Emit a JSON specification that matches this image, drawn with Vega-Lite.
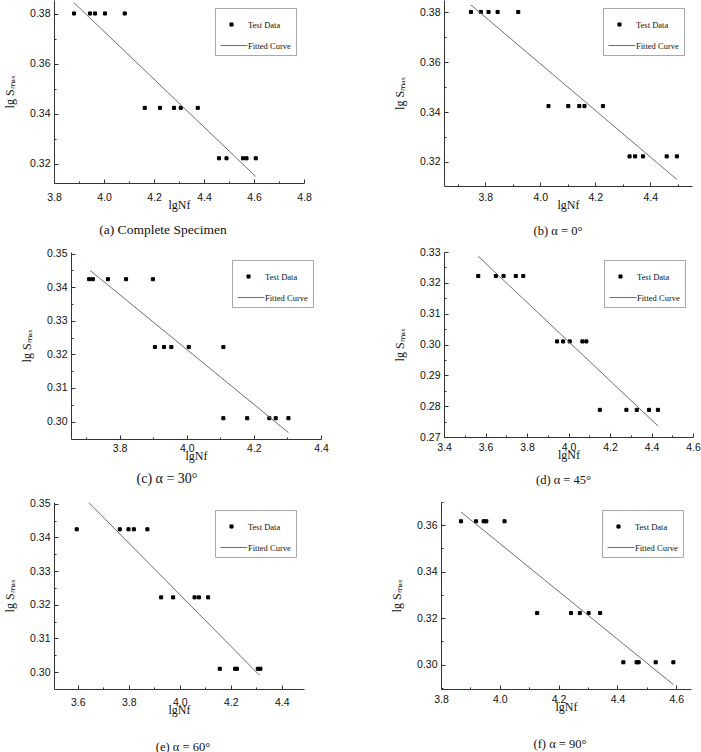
{
  "$schema": "https://vega.github.io/schema/vega-lite/v6.json",
  "padding": {"left": 2, "top": 0, "right": 0, "bottom": 0},
  "background": "white",
  "config": {
    "view": {"stroke": null},
    "axis": {"grid": false, "domainColor": "#333333", "tickColor": "#333333", "labelFont": "Liberation Sans", "labelFontSize": 10.5, "labelColor": "#111111", "titleFont": "Liberation Serif", "titleFontSize": 12, "titleFontWeight": "normal", "titleColor": "#111111", "labelFlush": false, "labelOverlap": false, "domainWidth": 1, "tickWidth": 1, "tickSize": -4},
    "axisX": {"titlePadding": -3.5, "labelPadding": 12},
    "axisY": {"titlePadding": 13, "labelPadding": 8},
    "legend": {"orient": "top-right", "offset": 8, "padding": 5, "rowPadding": 5, "symbolSize": 484, "symbolStrokeWidth": 1, "labelFont": "Liberation Serif", "labelFontSize": 8.5, "labelColor": "#111111", "labelOffset": 5, "strokeColor": "#a8a8a8", "fillColor": "#ffffff", "title": null},
    "title": {"font": "Liberation Serif", "fontWeight": "normal", "fontSize": 12.5, "color": "#111111", "orient": "bottom", "anchor": "middle", "frame": "group", "offset": 10}
  },
  "resolve": {"scale": {"x": "independent", "y": "independent", "color": "independent", "shape": "independent", "stroke": "independent"}, "legend": {"color": "independent", "shape": "independent", "stroke": "independent"}},
  "columns": 1,
  "spacing": 10,
  "concat": [
    {
      "spacing": 81,
      "resolve": {"scale": {"x": "independent", "y": "independent", "color": "independent", "shape": "independent", "stroke": "independent"}, "legend": {"color": "independent", "shape": "independent", "stroke": "independent"}},
      "hconcat": [
        {
          "spacing": 0,
          "resolve": {"scale": {"x": "independent", "y": "independent", "color": "independent", "shape": "independent", "stroke": "independent"}, "legend": {"color": "independent", "shape": "independent", "stroke": "independent"}},
          "hconcat": [
            {"width": 1, "height": 1, "data": {"values": [{"v": 0}]}, "mark": {"type": "point", "opacity": 0, "size": 0}},
            {
              "width": 250, "height": 183,
              "title": {"text": "(a) Complete Specimen", "dx": -16, "fontSize": 13.5, "offset": 12.5},
              "resolve": {"axis": {"x": "independent", "y": "independent"}},
              "layer": [
                {
                  "data": {"values": [
                    {"x": 3.880, "y": 0.3802, "s": "Test Data"}, {"x": 3.944, "y": 0.3802, "s": "Test Data"}, {"x": 3.964, "y": 0.3802, "s": "Test Data"}, {"x": 4.004, "y": 0.3802, "s": "Test Data"}, {"x": 4.083, "y": 0.3802, "s": "Test Data"},
                    {"x": 4.163, "y": 0.3424, "s": "Test Data"}, {"x": 4.224, "y": 0.3424, "s": "Test Data"}, {"x": 4.280, "y": 0.3424, "s": "Test Data"}, {"x": 4.307, "y": 0.3424, "s": "Test Data"}, {"x": 4.375, "y": 0.3424, "s": "Test Data"},
                    {"x": 4.460, "y": 0.3222, "s": "Test Data"}, {"x": 4.490, "y": 0.3222, "s": "Test Data"}, {"x": 4.556, "y": 0.3222, "s": "Test Data"}, {"x": 4.570, "y": 0.3222, "s": "Test Data"}, {"x": 4.607, "y": 0.3222, "s": "Test Data"}
                  ]},
                  "mark": {"type": "point", "filled": true, "opacity": 1, "size": 484, "strokeWidth": 1},
                  "encoding": {
                    "x": {"field": "x", "type": "quantitative", "scale": {"domain": [3.8, 4.8], "nice": false, "zero": false}, "axis": {"title": "lgNf", "format": ".1f", "labelPadding": 13, "values": [3.8, 4.0, 4.2, 4.4, 4.6, 4.8]}},
                    "y": {"field": "y", "type": "quantitative", "scale": {"domain": [0.3123, 0.3856], "nice": false, "zero": false}, "axis": {"title": "lg Sₘₐₓ", "format": ".2f", "values": [0.32, 0.34, 0.36, 0.38]}},
                    "shape": {"field": "s", "type": "nominal", "scale": {"domain": ["Test Data", "Fitted Curve"], "range": ["M-0.14,-0.14H0.14V0.14H-0.14Z", "M-1.0,0H1.45"]}},
                    "color": {"field": "s", "type": "nominal", "scale": {"domain": ["Test Data", "Fitted Curve"], "range": ["#000000", "#000000"]}},
                    "stroke": {"field": "s", "type": "nominal", "scale": {"domain": ["Test Data", "Fitted Curve"], "range": ["#000000", "#6e6e6e"]}}
                  }
                },
                {
                  "data": {"values": [{"x": 3.880, "y": 0.3845}, {"x": 4.607, "y": 0.3149}]},
                  "mark": {"type": "line", "color": "#6e6e6e", "strokeWidth": 1},
                  "encoding": {
                    "x": {"field": "x", "type": "quantitative", "axis": {"orient": "bottom", "values": [3.9, 4.1, 4.3, 4.5, 4.7], "labels": false, "domain": false, "title": null, "tickSize": -2}},
                    "y": {"field": "y", "type": "quantitative", "axis": {"orient": "left", "values": [0.33, 0.35, 0.37], "labels": false, "domain": false, "title": null, "tickSize": -2}}
                  }
                }
              ]
            }
          ]
        },
        {
          "width": 248, "height": 186,
          "title": {"text": "(b) α = 0°", "dx": -10, "offset": 14.5},
          "resolve": {"axis": {"x": "independent", "y": "independent"}},
          "layer": [
            {
              "data": {"values": [
                {"x": 3.748, "y": 0.3802, "s": "Test Data"}, {"x": 3.784, "y": 0.3802, "s": "Test Data"}, {"x": 3.812, "y": 0.3802, "s": "Test Data"}, {"x": 3.845, "y": 0.3802, "s": "Test Data"}, {"x": 3.920, "y": 0.3802, "s": "Test Data"},
                {"x": 4.030, "y": 0.3424, "s": "Test Data"}, {"x": 4.102, "y": 0.3424, "s": "Test Data"}, {"x": 4.142, "y": 0.3424, "s": "Test Data"}, {"x": 4.161, "y": 0.3424, "s": "Test Data"}, {"x": 4.228, "y": 0.3424, "s": "Test Data"},
                {"x": 4.325, "y": 0.3222, "s": "Test Data"}, {"x": 4.345, "y": 0.3222, "s": "Test Data"}, {"x": 4.374, "y": 0.3222, "s": "Test Data"}, {"x": 4.460, "y": 0.3222, "s": "Test Data"}, {"x": 4.497, "y": 0.3222, "s": "Test Data"}
              ]},
              "mark": {"type": "point", "filled": true, "opacity": 1, "size": 484, "strokeWidth": 1},
              "encoding": {
                "x": {"field": "x", "type": "quantitative", "scale": {"domain": [3.65, 4.552], "nice": false, "zero": false}, "axis": {"title": "lgNf", "format": ".1f", "labelPadding": 10, "values": [3.8, 4.0, 4.2, 4.4]}},
                "y": {"field": "y", "type": "quantitative", "scale": {"domain": [0.3103, 0.385], "nice": false, "zero": false}, "axis": {"title": "lg Sₘₐₓ", "format": ".2f", "values": [0.32, 0.34, 0.36, 0.38]}},
                "shape": {"field": "s", "type": "nominal", "scale": {"domain": ["Test Data", "Fitted Curve"], "range": ["M-0.14,-0.14H0.14V0.14H-0.14Z", "M-1.0,0H1.45"]}},
                "color": {"field": "s", "type": "nominal", "scale": {"domain": ["Test Data", "Fitted Curve"], "range": ["#000000", "#000000"]}},
                "stroke": {"field": "s", "type": "nominal", "scale": {"domain": ["Test Data", "Fitted Curve"], "range": ["#000000", "#6e6e6e"]}}
              }
            },
            {
              "data": {"values": [{"x": 3.748, "y": 0.383}, {"x": 4.497, "y": 0.3129}]},
              "mark": {"type": "line", "color": "#6e6e6e", "strokeWidth": 1},
              "encoding": {
                "x": {"field": "x", "type": "quantitative", "axis": {"orient": "bottom", "values": [3.7, 3.9, 4.1, 4.3, 4.5], "labels": false, "domain": false, "title": null, "tickSize": -2}},
                "y": {"field": "y", "type": "quantitative", "axis": {"orient": "left", "values": [0.33, 0.35, 0.37], "labels": false, "domain": false, "title": null, "tickSize": -2}}
              }
            }
          ]
        }
      ]
    },
    {
      "spacing": 64,
      "resolve": {"scale": {"x": "independent", "y": "independent", "color": "independent", "shape": "independent", "stroke": "independent"}, "legend": {"color": "independent", "shape": "independent", "stroke": "independent"}},
      "hconcat": [
        {
          "spacing": 17,
          "resolve": {"scale": {"x": "independent", "y": "independent", "color": "independent", "shape": "independent", "stroke": "independent"}, "legend": {"color": "independent", "shape": "independent", "stroke": "independent"}},
          "hconcat": [
            {"width": 1, "height": 1, "data": {"values": [{"v": 0}]}, "mark": {"type": "point", "opacity": 0, "size": 0}},
            {
              "width": 250, "height": 187,
              "title": {"text": "(c) α = 30°", "dx": -29, "fontSize": 14, "offset": 10.5, "subtitle": " ", "subtitleFontSize": 2, "subtitlePadding": 0},
              "resolve": {"axis": {"x": "independent", "y": "independent"}},
              "layer": [
                {
                  "data": {"values": [
                    {"x": 3.709, "y": 0.3424, "s": "Test Data"}, {"x": 3.720, "y": 0.3424, "s": "Test Data"}, {"x": 3.765, "y": 0.3424, "s": "Test Data"}, {"x": 3.819, "y": 0.3424, "s": "Test Data"}, {"x": 3.899, "y": 0.3424, "s": "Test Data"},
                    {"x": 3.905, "y": 0.3222, "s": "Test Data"}, {"x": 3.932, "y": 0.3222, "s": "Test Data"}, {"x": 3.954, "y": 0.3222, "s": "Test Data"}, {"x": 4.006, "y": 0.3222, "s": "Test Data"}, {"x": 4.109, "y": 0.3222, "s": "Test Data"},
                    {"x": 4.109, "y": 0.3010, "s": "Test Data"}, {"x": 4.180, "y": 0.3010, "s": "Test Data"}, {"x": 4.246, "y": 0.3010, "s": "Test Data"}, {"x": 4.265, "y": 0.3010, "s": "Test Data"}, {"x": 4.303, "y": 0.3010, "s": "Test Data"}
                  ]},
                  "mark": {"type": "point", "filled": true, "opacity": 1, "size": 484, "strokeWidth": 1},
                  "encoding": {
                    "x": {"field": "x", "type": "quantitative", "scale": {"domain": [3.655, 4.4], "nice": false, "zero": false}, "axis": {"title": "lgNf", "format": ".1f", "labelPadding": 8, "values": [3.8, 4.0, 4.2, 4.4]}},
                    "y": {"field": "y", "type": "quantitative", "scale": {"domain": [0.2948, 0.3505], "nice": false, "zero": false}, "axis": {"title": "lg Sₘₐₓ", "format": ".2f", "values": [0.30, 0.31, 0.32, 0.33, 0.34, 0.35]}},
                    "shape": {"field": "s", "type": "nominal", "scale": {"domain": ["Test Data", "Fitted Curve"], "range": ["M-0.14,-0.14H0.14V0.14H-0.14Z", "M-1.0,0H1.45"]}},
                    "color": {"field": "s", "type": "nominal", "scale": {"domain": ["Test Data", "Fitted Curve"], "range": ["#000000", "#000000"]}},
                    "stroke": {"field": "s", "type": "nominal", "scale": {"domain": ["Test Data", "Fitted Curve"], "range": ["#000000", "#6e6e6e"]}}
                  }
                },
                {
                  "data": {"values": [{"x": 3.712, "y": 0.345}, {"x": 4.303, "y": 0.2967}]},
                  "mark": {"type": "line", "color": "#6e6e6e", "strokeWidth": 1},
                  "encoding": {
                    "x": {"field": "x", "type": "quantitative", "axis": {"orient": "bottom", "values": [3.7, 3.9, 4.1, 4.3], "labels": false, "domain": false, "title": null, "tickSize": -2}},
                    "y": {"field": "y", "type": "quantitative", "axis": {"orient": "left", "values": [0.305, 0.315, 0.325, 0.335, 0.345], "labels": false, "domain": false, "title": null, "tickSize": -2}}
                  }
                }
              ]
            }
          ]
        },
        {
          "width": 249, "height": 185,
          "title": {"text": "(d) α = 45°", "dx": -5, "offset": 13.5, "subtitle": " ", "subtitleFontSize": 2, "subtitlePadding": 0},
          "resolve": {"axis": {"x": "independent", "y": "independent"}},
          "layer": [
            {
              "data": {"values": [
                {"x": 3.565, "y": 0.3222, "s": "Test Data"}, {"x": 3.650, "y": 0.3222, "s": "Test Data"}, {"x": 3.687, "y": 0.3222, "s": "Test Data"}, {"x": 3.746, "y": 0.3222, "s": "Test Data"}, {"x": 3.782, "y": 0.3222, "s": "Test Data"},
                {"x": 3.945, "y": 0.3010, "s": "Test Data"}, {"x": 3.974, "y": 0.3010, "s": "Test Data"}, {"x": 4.006, "y": 0.3010, "s": "Test Data"}, {"x": 4.067, "y": 0.3010, "s": "Test Data"}, {"x": 4.086, "y": 0.3010, "s": "Test Data"},
                {"x": 4.151, "y": 0.2788, "s": "Test Data"}, {"x": 4.279, "y": 0.2788, "s": "Test Data"}, {"x": 4.329, "y": 0.2788, "s": "Test Data"}, {"x": 4.388, "y": 0.2788, "s": "Test Data"}, {"x": 4.431, "y": 0.2788, "s": "Test Data"}
              ]},
              "mark": {"type": "point", "filled": true, "opacity": 1, "size": 484, "strokeWidth": 1},
              "encoding": {
                "x": {"field": "x", "type": "quantitative", "scale": {"domain": [3.4, 4.6], "nice": false, "zero": false}, "axis": {"title": "lgNf", "format": ".1f", "labelPadding": 9, "values": [3.4, 3.6, 3.8, 4.0, 4.2, 4.4, 4.6]}},
                "y": {"field": "y", "type": "quantitative", "scale": {"domain": [0.27, 0.33], "nice": false, "zero": false}, "axis": {"title": "lg Sₘₐₓ", "format": ".2f", "values": [0.27, 0.28, 0.29, 0.30, 0.31, 0.32, 0.33]}},
                "shape": {"field": "s", "type": "nominal", "scale": {"domain": ["Test Data", "Fitted Curve"], "range": ["M-0.14,-0.14H0.14V0.14H-0.14Z", "M-1.0,0H1.45"]}},
                "color": {"field": "s", "type": "nominal", "scale": {"domain": ["Test Data", "Fitted Curve"], "range": ["#000000", "#000000"]}},
                "stroke": {"field": "s", "type": "nominal", "scale": {"domain": ["Test Data", "Fitted Curve"], "range": ["#000000", "#6e6e6e"]}}
              }
            },
            {
              "data": {"values": [{"x": 3.565, "y": 0.3286}, {"x": 4.431, "y": 0.2736}]},
              "mark": {"type": "line", "color": "#6e6e6e", "strokeWidth": 1},
              "encoding": {
                "x": {"field": "x", "type": "quantitative", "axis": {"orient": "bottom", "values": [3.5, 3.7, 3.9, 4.1, 4.3, 4.5], "labels": false, "domain": false, "title": null, "tickSize": -2}},
                "y": {"field": "y", "type": "quantitative", "axis": {"orient": "left", "values": [0.275, 0.285, 0.295, 0.305, 0.315, 0.325], "labels": false, "domain": false, "title": null, "tickSize": -2}}
              }
            }
          ]
        }
      ]
    },
    {
      "spacing": 86,
      "resolve": {"scale": {"x": "independent", "y": "independent", "color": "independent", "shape": "independent", "stroke": "independent"}, "legend": {"color": "independent", "shape": "independent", "stroke": "independent"}},
      "hconcat": [
        {
          "spacing": 0,
          "resolve": {"scale": {"x": "independent", "y": "independent", "color": "independent", "shape": "independent", "stroke": "independent"}, "legend": {"color": "independent", "shape": "independent", "stroke": "independent"}},
          "hconcat": [
            {"width": 1, "height": 1, "data": {"values": [{"v": 0}]}, "mark": {"type": "point", "opacity": 0, "size": 0}},
            {
              "width": 250, "height": 187,
              "title": {"text": "(e) α = 60°", "dx": 4, "offset": 25.5},
              "resolve": {"axis": {"x": "independent", "y": "independent"}},
              "layer": [
                {
                  "data": {"values": [
                    {"x": 3.596, "y": 0.3424, "s": "Test Data"}, {"x": 3.765, "y": 0.3424, "s": "Test Data"}, {"x": 3.799, "y": 0.3424, "s": "Test Data"}, {"x": 3.820, "y": 0.3424, "s": "Test Data"}, {"x": 3.873, "y": 0.3424, "s": "Test Data"},
                    {"x": 3.927, "y": 0.3222, "s": "Test Data"}, {"x": 3.974, "y": 0.3222, "s": "Test Data"}, {"x": 4.058, "y": 0.3222, "s": "Test Data"}, {"x": 4.075, "y": 0.3222, "s": "Test Data"}, {"x": 4.111, "y": 0.3222, "s": "Test Data"},
                    {"x": 4.157, "y": 0.3010, "s": "Test Data"}, {"x": 4.217, "y": 0.3010, "s": "Test Data"}, {"x": 4.224, "y": 0.3010, "s": "Test Data"}, {"x": 4.306, "y": 0.3010, "s": "Test Data"}, {"x": 4.316, "y": 0.3010, "s": "Test Data"}
                  ]},
                  "mark": {"type": "point", "filled": true, "opacity": 1, "size": 484, "strokeWidth": 1},
                  "encoding": {
                    "x": {"field": "x", "type": "quantitative", "scale": {"domain": [3.507, 4.487], "nice": false, "zero": false}, "axis": {"title": "lgNf", "format": ".1f", "labelPadding": 12, "values": [3.6, 3.8, 4.0, 4.2, 4.4]}},
                    "y": {"field": "y", "type": "quantitative", "scale": {"domain": [0.295, 0.3505], "nice": false, "zero": false}, "axis": {"title": "lg Sₘₐₓ", "format": ".2f", "values": [0.30, 0.31, 0.32, 0.33, 0.34, 0.35]}},
                    "shape": {"field": "s", "type": "nominal", "scale": {"domain": ["Test Data", "Fitted Curve"], "range": ["M-0.14,-0.14H0.14V0.14H-0.14Z", "M-1.0,0H1.45"]}},
                    "color": {"field": "s", "type": "nominal", "scale": {"domain": ["Test Data", "Fitted Curve"], "range": ["#000000", "#000000"]}},
                    "stroke": {"field": "s", "type": "nominal", "scale": {"domain": ["Test Data", "Fitted Curve"], "range": ["#000000", "#6e6e6e"]}}
                  }
                },
                {
                  "data": {"values": [{"x": 3.644, "y": 0.3503}, {"x": 4.311, "y": 0.2992}]},
                  "mark": {"type": "line", "color": "#6e6e6e", "strokeWidth": 1},
                  "encoding": {
                    "x": {"field": "x", "type": "quantitative", "axis": {"orient": "bottom", "values": [3.7, 3.9, 4.1, 4.3], "labels": false, "domain": false, "title": null, "tickSize": -2}},
                    "y": {"field": "y", "type": "quantitative", "axis": {"orient": "left", "values": [0.305, 0.315, 0.325, 0.335, 0.345], "labels": false, "domain": false, "title": null, "tickSize": -2}}
                  }
                }
              ]
            }
          ]
        },
        {
          "width": 250, "height": 187,
          "title": {"text": "(f) α = 90°", "dx": -6, "offset": 25.5},
          "resolve": {"axis": {"x": "independent", "y": "independent"}},
          "layer": [
            {
              "data": {"values": [
                {"x": 3.868, "y": 0.3617, "s": "Test Data"}, {"x": 3.919, "y": 0.3617, "s": "Test Data"}, {"x": 3.945, "y": 0.3617, "s": "Test Data"}, {"x": 3.954, "y": 0.3617, "s": "Test Data"}, {"x": 4.016, "y": 0.3617, "s": "Test Data"},
                {"x": 4.127, "y": 0.3222, "s": "Test Data"}, {"x": 4.242, "y": 0.3222, "s": "Test Data"}, {"x": 4.272, "y": 0.3222, "s": "Test Data"}, {"x": 4.302, "y": 0.3222, "s": "Test Data"}, {"x": 4.341, "y": 0.3222, "s": "Test Data"},
                {"x": 4.420, "y": 0.3010, "s": "Test Data"}, {"x": 4.465, "y": 0.3010, "s": "Test Data"}, {"x": 4.472, "y": 0.3010, "s": "Test Data"}, {"x": 4.530, "y": 0.3010, "s": "Test Data"}, {"x": 4.590, "y": 0.3010, "s": "Test Data"}
              ]},
              "mark": {"type": "point", "filled": true, "opacity": 1, "size": 484, "strokeWidth": 1},
              "encoding": {
                "x": {"field": "x", "type": "quantitative", "scale": {"domain": [3.8, 4.65], "nice": false, "zero": false}, "axis": {"title": "lgNf", "format": ".1f", "labelPadding": 9, "values": [3.8, 4.0, 4.2, 4.4, 4.6]}},
                "y": {"field": "y", "type": "quantitative", "scale": {"domain": [0.2895, 0.370], "nice": false, "zero": false}, "axis": {"title": "lg Sₘₐₓ", "format": ".2f", "values": [0.30, 0.32, 0.34, 0.36]}},
                "shape": {"field": "s", "type": "nominal", "scale": {"domain": ["Test Data", "Fitted Curve"], "range": ["M-0.14,-0.14H0.14V0.14H-0.14Z", "M-1.0,0H1.45"]}},
                "color": {"field": "s", "type": "nominal", "scale": {"domain": ["Test Data", "Fitted Curve"], "range": ["#000000", "#000000"]}},
                "stroke": {"field": "s", "type": "nominal", "scale": {"domain": ["Test Data", "Fitted Curve"], "range": ["#000000", "#6e6e6e"]}}
              }
            },
            {
              "data": {"values": [{"x": 3.868, "y": 0.3657}, {"x": 4.590, "y": 0.2914}]},
              "mark": {"type": "line", "color": "#6e6e6e", "strokeWidth": 1},
              "encoding": {
                "x": {"field": "x", "type": "quantitative", "axis": {"orient": "bottom", "values": [3.9, 4.1, 4.3, 4.5], "labels": false, "domain": false, "title": null, "tickSize": -2}},
                "y": {"field": "y", "type": "quantitative", "axis": {"orient": "left", "values": [0.29, 0.31, 0.33, 0.35, 0.37], "labels": false, "domain": false, "title": null, "tickSize": -2}}
              }
            }
          ]
        }
      ]
    }
  ]
}
